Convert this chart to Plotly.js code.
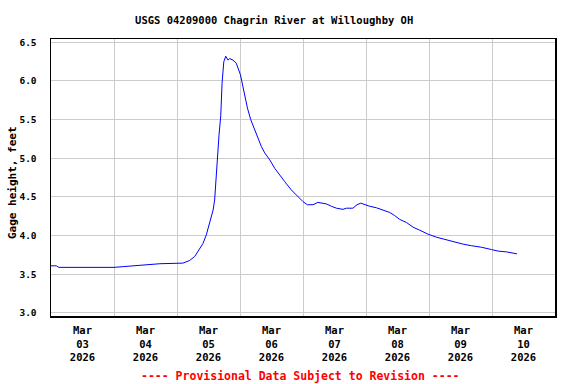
<!DOCTYPE html>
<html>
<head>
<meta charset="utf-8">
<script src="https://cdn.plot.ly/plotly-3.0.1.min.js"></script>
<style>html,body{margin:0;padding:0;background:#fff;}#chart{width:576px;height:384px;}</style>
</head>
<body>
<div id="chart"></div>
<script>
var chartTitle = "USGS 04209000 Chagrin River at Willoughby OH";
var yTitle = "Gage height, feet";
var footnote = "---- Provisional Data Subject to Revision ----";

var times = [
  "2026-03-03 00:00","2026-03-03 02:00","2026-03-03 03:00","2026-03-04 00:00","2026-03-04 03:45",
  "2026-03-04 07:30","2026-03-04 12:00","2026-03-04 17:30","2026-03-05 02:15","2026-03-05 04:45",
  "2026-03-05 06:45","2026-03-05 08:30","2026-03-05 09:55","2026-03-05 11:10","2026-03-05 12:30",
  "2026-03-05 13:45","2026-03-05 14:20","2026-03-05 15:00","2026-03-05 15:15","2026-03-05 16:00",
  "2026-03-05 16:40","2026-03-05 17:10","2026-03-05 17:50","2026-03-05 18:35","2026-03-05 19:25",
  "2026-03-05 20:05","2026-03-05 21:20","2026-03-05 22:35","2026-03-06 00:10","2026-03-06 01:05",
  "2026-03-06 02:05","2026-03-06 02:50","2026-03-06 04:05","2026-03-06 05:35","2026-03-06 06:50",
  "2026-03-06 08:10","2026-03-06 09:25","2026-03-06 11:20","2026-03-06 13:15","2026-03-06 15:10",
  "2026-03-06 17:00","2026-03-06 19:35","2026-03-06 22:05","2026-03-07 00:00","2026-03-07 01:40",
  "2026-03-07 03:50","2026-03-07 05:40","2026-03-07 07:35","2026-03-07 08:55","2026-03-07 10:50",
  "2026-03-07 12:45","2026-03-07 15:15","2026-03-07 16:30","2026-03-07 19:00","2026-03-07 20:35",
  "2026-03-07 22:00","2026-03-07 23:30","2026-03-08 01:25","2026-03-08 04:00","2026-03-08 06:30",
  "2026-03-08 09:00","2026-03-08 10:55","2026-03-08 12:50","2026-03-08 15:25","2026-03-08 17:55",
  "2026-03-08 20:30","2026-03-08 23:35","2026-03-09 02:50","2026-03-09 06:00","2026-03-09 09:10",
  "2026-03-09 13:00","2026-03-09 16:10","2026-03-09 20:00","2026-03-09 23:50","2026-03-10 02:20",
  "2026-03-10 05:30","2026-03-10 09:30"
];
var gageHeight = [
  3.61,3.61,3.59,3.59,3.60,
  3.61,3.625,3.637,3.645,3.678,
  3.73,3.817,3.90,4.01,4.16,
  4.33,4.46,4.81,5.02,5.30,
  5.55,5.97,6.25,6.32,6.27,
  6.29,6.27,6.23,6.08,5.93,
  5.80,5.65,5.50,5.37,5.26,
  5.15,5.07,4.98,4.87,4.79,
  4.70,4.59,4.51,4.44,4.40,
  4.40,4.43,4.42,4.41,4.38,
  4.355,4.34,4.355,4.355,4.40,
  4.42,4.40,4.38,4.36,4.33,
  4.30,4.26,4.21,4.17,4.11,
  4.07,4.02,3.98,3.95,3.92,
  3.89,3.87,3.85,3.82,3.80,
  3.79,3.765
];

var dayLabelVals = ["2026-03-03 12:00","2026-03-04 12:00","2026-03-05 12:00","2026-03-06 12:00",
                    "2026-03-07 12:00","2026-03-08 12:00","2026-03-09 12:00","2026-03-10 12:00"];
var dayLabelText = ["Mar<br>03<br>2026","Mar<br>04<br>2026","Mar<br>05<br>2026","Mar<br>06<br>2026",
                    "Mar<br>07<br>2026","Mar<br>08<br>2026","Mar<br>09<br>2026","Mar<br>10<br>2026"];
var dayGridVals = ["2026-03-03","2026-03-04","2026-03-05","2026-03-06","2026-03-07",
                   "2026-03-08","2026-03-09","2026-03-10","2026-03-11"];
var yTickVals = [3.0,3.5,4.0,4.5,5.0,5.5,6.0,6.5];
var yTickText = ["3.0","3.5","4.0","4.5","5.0","5.5","6.0","6.5"];

var mono = "DejaVu Sans Mono, monospace";

var trace = {
  x: times, y: gageHeight, type: "scatter", mode: "lines",
  line: {color: "#0000ff", width: 1}, hoverinfo: "none"
};

var layout = {
  width: 576, height: 384,
  margin: {l: 51, r: 21, t: 39, b: 68},
  paper_bgcolor: "#ffffff", plot_bgcolor: "#ffffff",
  showlegend: false,
  title: {text: "<b>" + chartTitle + "</b>", font: {family: mono, size: 10.5, color: "#000"},
          x: 0.476, xanchor: "center", y: 1 - 20/384, yanchor: "middle"},
  xaxis: {
    type: "date", range: ["2026-03-03 00:00", "2026-03-11 00:00"],
    tickmode: "array", tickvals: dayLabelVals,
    ticktext: dayLabelText.map(function(t){ return "<b>" + t + "</b>"; }),
    showgrid: false, ticks: "", ticklabelstandoff: 4,
    tickfont: {family: mono, size: 10.5, color: "#000"},
    minor: {tickmode: "array", tickvals: dayGridVals, showgrid: true, gridcolor: "#cccccc", gridwidth: 1, ticks: ""},
    showline: true, mirror: true, linecolor: "#000", linewidth: 1.5,
    zeroline: false, fixedrange: true
  },
  yaxis: {
    range: [2.961, 6.543],
    tickmode: "array", tickvals: yTickVals,
    ticktext: yTickText.map(function(t){ return "<b>" + t + "</b>"; }),
    showgrid: true, gridcolor: "#cccccc", gridwidth: 1,
    ticks: "outside", ticklen: 11, tickcolor: "rgba(0,0,0,0)",
    tickfont: {family: mono, size: 9.5, color: "#000"},
    showline: true, mirror: true, linecolor: "#000", linewidth: 1.5,
    zeroline: false, fixedrange: true
  },
  annotations: [{
    text: "<b>" + yTitle + "</b>", xref: "paper", yref: "paper",
    x: (12 - 51) / 504, y: (316 - 183) / 277, xanchor: "center", yanchor: "middle",
    textangle: -90, showarrow: false,
    font: {family: mono, size: 11, color: "#000"}
  }, {
    text: "<b>" + footnote + "</b>", xref: "paper", yref: "paper",
    x: 0.496, y: -0.216, xanchor: "center", yanchor: "middle", showarrow: false,
    font: {family: mono, size: 11.5, color: "#ff0000"}
  }]
};

Plotly.newPlot("chart", [trace], layout, {staticPlot: true, displayModeBar: false});
</script>
</body>
</html>
